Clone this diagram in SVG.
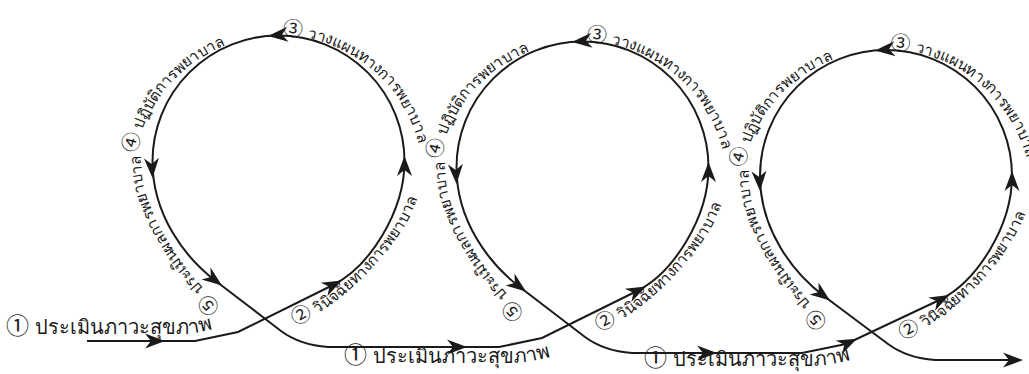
<svg xmlns="http://www.w3.org/2000/svg" width="1029" height="374" viewBox="0 0 1029 374">
<style>
.ln{fill:none;stroke:#1a1a1a;stroke-width:2}
.ah{fill:#1a1a1a}
.lb{font-family:"DejaVu Sans",sans-serif;font-size:20px;fill:#1a1a1a}
.ct{font-family:"DejaVu Sans",sans-serif;font-size:15.3px;fill:#1a1a1a}
.n{font-family:"Noto Sans CJK SC","DejaVu Sans",sans-serif;font-size:1.3em}
.m{font-family:"Noto Sans CJK SC","DejaVu Sans",sans-serif;font-size:1.15em}
</style>
<defs>
<path id="ah" d="M0,0 L-20,-7.5 L-14,0 L-20,7.5 Z"/>
<path id="p3" d="M4,-126.4 A145,145 0 0 1 145,18.5"/>
<path id="p4" d="M-142.5,-8 A145,145 0 0 1 -12.6,-125.9"/>
<path id="p2" d="M17,164 C76.5,136.5 141.5,66.5 147.5,4.5 L149,-25"/>
<path id="p5" d="M-58,146 C-93,110 -137.5,51.5 -137.5,1.5 L-137.5,-25"/>
<path id="q1" d="M6,334 H185 Q196,334 240,322"/>
<path id="q2" d="M344,363 H518 Q530,363 575,350"/>
<path id="q3" d="M644,366 H818 Q830,366 875,353"/>
</defs>
<g id="connectors">
<path class="ln" d="M87,341 H195 L238,332 L333,285 C369,267 404.5,212 404.5,161.5 A126,126 0 0 0 278.5,35.5 A126,126 0 0 0 152.5,161.5 C152.5,215 185,258 217,282 L281,331 Q300,345 328,347 H499 L542,338 L637,291 C673,273 708.5,218 708.5,167.5 A126,126 0 0 0 582.5,41.5 A126,126 0 0 0 456.5,167.5 C456.5,221 489,264 521,288 L585,337 Q604,351 632,353 H802 L846,344 L940.5,299.5 C976.5,281.5 1012,226.5 1012,176 A126,126 0 0 0 886,50 A126,126 0 0 0 760,176 C760,229.5 792.5,272.5 824.5,296.5 L888,344 Q907,358 935,360 H1012"/>
<use href="#ah" class="ah" transform="translate(165,341)"/>
<use href="#ah" class="ah" transform="translate(342,280.5) rotate(-26.3)"/>
<use href="#ah" class="ah" transform="translate(404.5,156) rotate(-90)"/>
<use href="#ah" class="ah" transform="translate(268,36) rotate(175)"/>
<use href="#ah" class="ah" transform="translate(152.5,178) rotate(87)"/>
<use href="#ah" class="ah" transform="translate(222,285.5) rotate(37)"/>
<use href="#ah" class="ah" transform="translate(467,347)"/>
<use href="#ah" class="ah" transform="translate(646,286.5) rotate(-26.3)"/>
<use href="#ah" class="ah" transform="translate(708.5,162) rotate(-90)"/>
<use href="#ah" class="ah" transform="translate(572,42) rotate(175)"/>
<use href="#ah" class="ah" transform="translate(456.5,184) rotate(87)"/>
<use href="#ah" class="ah" transform="translate(526,291.5) rotate(37)"/>
<use href="#ah" class="ah" transform="translate(717,353)"/>
<use href="#ah" class="ah" transform="translate(857,338.8) rotate(-25.2)"/>
<use href="#ah" class="ah" transform="translate(949.5,295) rotate(-27)"/>
<use href="#ah" class="ah" transform="translate(1012,171) rotate(-90)"/>
<use href="#ah" class="ah" transform="translate(875,50.5) rotate(175)"/>
<use href="#ah" class="ah" transform="translate(760,191) rotate(87)"/>
<use href="#ah" class="ah" transform="translate(830,300.5) rotate(37)"/>
<use href="#ah" class="ah" transform="translate(1023,360)"/>
</g>
<g id="loop1" transform="translate(278.5,161.5)">
<text class="ct"><textPath href="#p3"><tspan class="n">③</tspan> วางแผนทางการพยาบาล</textPath></text>
<text class="ct"><textPath href="#p4"><tspan class="n">④</tspan> ปฏิบัติการพยาบาล</textPath></text>
<text class="ct"><textPath href="#p2"><tspan class="n">②</tspan> วินิจฉัยทางการพยาบาล</textPath></text>
<text class="ct"><textPath href="#p5"><tspan class="n">⑤</tspan> ประเมินผลการพยาบาล</textPath></text>
</g>
<g id="loop2" transform="translate(582.5,167.5)">
<text class="ct"><textPath href="#p3"><tspan class="n">③</tspan> วางแผนทางการพยาบาล</textPath></text>
<text class="ct"><textPath href="#p4"><tspan class="n">④</tspan> ปฏิบัติการพยาบาล</textPath></text>
<text class="ct"><textPath href="#p2"><tspan class="n">②</tspan> วินิจฉัยทางการพยาบาล</textPath></text>
<text class="ct"><textPath href="#p5"><tspan class="n">⑤</tspan> ประเมินผลการพยาบาล</textPath></text>
</g>
<g id="loop3" transform="translate(886,176)">
<text class="ct"><textPath href="#p3"><tspan class="n">③</tspan> วางแผนทางการพยาบาล</textPath></text>
<text class="ct"><textPath href="#p4"><tspan class="n">④</tspan> ปฏิบัติการพยาบาล</textPath></text>
<text class="ct"><textPath href="#p2"><tspan class="n">②</tspan> วินิจฉัยทางการพยาบาล</textPath></text>
<text class="ct"><textPath href="#p5"><tspan class="n">⑤</tspan> ประเมินผลการพยาบาล</textPath></text>
</g>
<g id="assess1"><text class="lb"><textPath href="#q1"><tspan class="m">①</tspan> ประเมินภาวะสุขภาพ</textPath></text></g>
<g id="assess2"><text class="lb"><textPath href="#q2"><tspan class="m">①</tspan> ประเมินภาวะสุขภาพ</textPath></text></g>
<g id="assess3"><text class="lb"><textPath href="#q3"><tspan class="m">①</tspan> ประเมินภาวะสุขภาพ</textPath></text></g>
</svg>
